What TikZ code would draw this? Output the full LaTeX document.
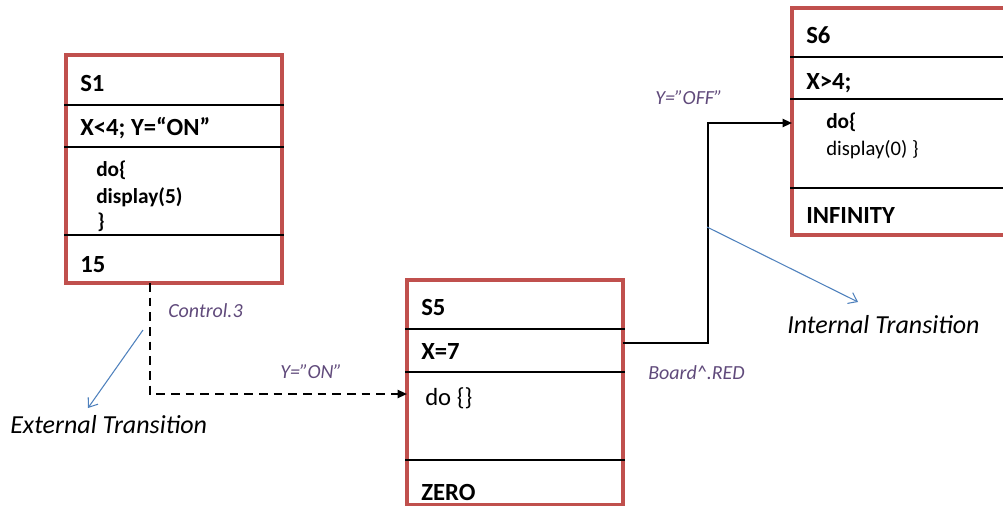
\documentclass[tikz,border=0pt]{standalone}
\usepackage{fontspec}
\setmainfont{Carlito}
\usetikzlibrary{calc, positioning}
\usetikzlibrary{arrows.meta}

\definecolor{boxred}{HTML}{C0504D}
\definecolor{guardpurple}{HTML}{604A7B}
\definecolor{noteblue}{HTML}{4F81BD}

\tikzset{
  statebox/.style={draw=boxred, line width=2.6pt, fill=white, rectangle, inner sep=0pt},
  divider/.style={line width=1.7pt, black},
  head/.style={anchor=west, inner sep=0pt, font=\fontsize{18.5}{20}\selectfont\bfseries},
  body/.style={anchor=west, inner sep=0pt, font=\fontsize{16}{18}\selectfont\bfseries},
  guard/.style={anchor=west, inner sep=0pt, text=guardpurple, font=\fontsize{15}{16}\selectfont\itshape},
  kind/.style={anchor=west, inner sep=0pt, font=\fontsize{19.5}{21}\selectfont\itshape},
  trans/.style={line width=1.5pt, -{Triangle[length=7pt, width=6pt]}},
  note/.style={noteblue, line width=0.8pt, -{Straight Barb[length=6pt, width=9pt]}}
}

\begin{document}
\begin{tikzpicture}[x=0.75pt, y=-0.75pt]
	\clip (0,0) rectangle (1003,506);
	
	% state boxes
	\node[statebox, minimum width=162pt, minimum height=171pt] (s1) at (174,169) {};
	\node[statebox, minimum width=162pt, minimum height=168.75pt] (s5) at (515,392.5) {};
	\node[statebox, minimum width=168pt, minimum height=170.25pt] (s6) at (904,121.5) {};
	
	\foreach \y in {105,147,235} \draw[divider] (s1.west |- 0,\y) -- (s1.east |- 0,\y);
	\foreach \y in {329,372,460} \draw[divider] (s5.west |- 0,\y) -- (s5.east |- 0,\y);
	\foreach \y in {57,99,188} \draw[divider] (s6.west |- 0,\y) -- (s6.east |- 0,\y);
	
	% S1
	\node[head] (s1name) at (80,83) {S1};
	\node[head] (s1guard) at (80,128) {X<4; Y=“ON”};
	\node[body] (s1do) at (96,170) {do\{};
	\node[body] (s1disp) at (96,197) {display(5)};
	\node[body] (s1end) at (97,222) {\}};
	\node[head] (s1time) at (80,265) {15};
	
	% S5
	\node[head] (s5name) at (421,307) {S5};
	\node[head] (s5guard) at (421,352) {X=7};
	\node[head, font=\fontsize{18.5}{20}\selectfont] (s5do) at (425,398) {do \{\}};
	\node[head] (s5time) at (421,492) {ZERO};
	
	% S6
	\node[head] (s6name) at (806,35) {S6};
	\node[head] (s6guard) at (806,83) {X>4;};
	\node[body] (s6do) at (826,122) {do\{};
	\node[body, font=\fontsize{15.5}{18}\selectfont] (s6disp) at (826,150) {display(0) \}};
	\node[head] (s6time) at (806,216) {INFINITY};
	
	% transitions
	\coordinate (s1out) at (150,283);
	\coordinate (s5in) at (407,394);
	\coordinate (s5out) at (623,343);
	\coordinate (s6in) at (792,123);
	\draw[trans, dash pattern=on 6.5pt off 4.5pt] (s1out) |- (s5in);
	\draw[trans] (s5out) -| (708,200) |- (s6in);
	
	\node[guard] (ctrl) at (168,311) {Control.3};
	\node[guard] (yon) at (280,372) {Y="ON"};
	\node[guard] (board) at (648,373) {Board\textasciicircum.RED};
	\node[guard] (yoff) at (655,98) {Y="OFF"};
	
	% notes
	\node[kind] (exttrans) at (10,425) {External Transition};
	\node[kind] (inttrans) at (787,325) {Internal Transition};
	\coordinate (extfrom) at (143,330);
	\coordinate (intfrom) at (707,227);
	\draw[note] (extfrom) -- (88,408);
	\draw[note] (intfrom) -- (858,302);
\end{tikzpicture}
\end{document}
